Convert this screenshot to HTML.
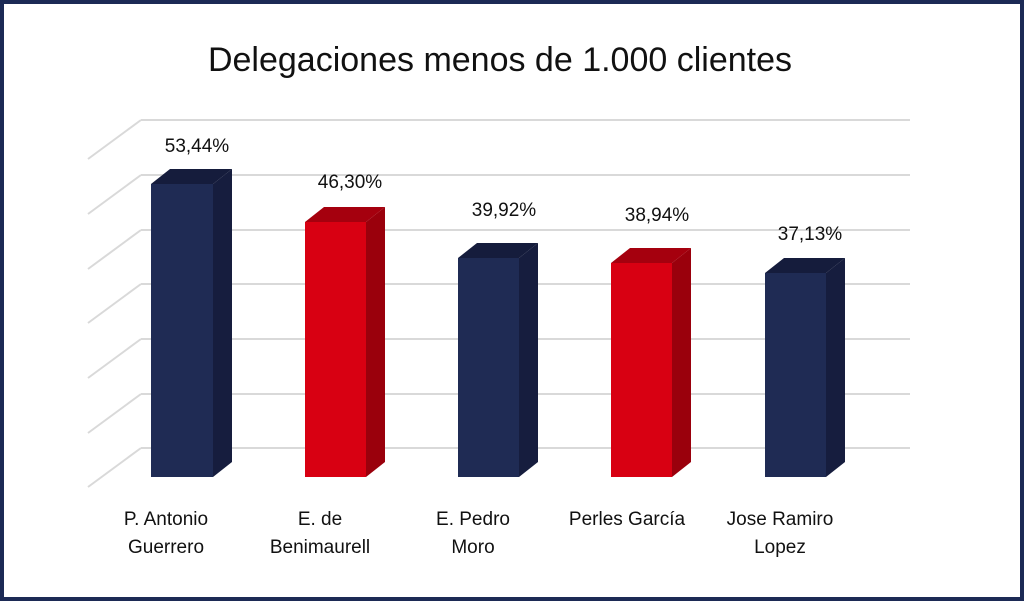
<!DOCTYPE html>
<html><head><meta charset="utf-8"><style>
body{margin:0;background:#fff}
svg{display:block}
text{font-family:"Liberation Sans",sans-serif;fill:#111}
</style></head><body>
<svg width="1024" height="601" viewBox="0 0 1024 601">
<rect x="2" y="2" width="1020" height="597" fill="#fff" stroke="#1c2a55" stroke-width="4"/>
<text x="500" y="71" font-size="34" text-anchor="middle">Delegaciones menos de 1.000 clientes</text>
<g stroke="#d9d9d9" stroke-width="2" fill="none">
<path d="M141 120H910M88 159L141 120"/>
<path d="M141 175H910M88 214L141 175"/>
<path d="M141 230H910M88 269L141 230"/>
<path d="M141 284H910M88 323L141 284"/>
<path d="M141 339H910M88 378L141 339"/>
<path d="M141 394H910M88 433L141 394"/>
<path d="M141 448H910M88 487L141 448"/>
</g>
<g id="bars">
<polygon points="213,184 232,169 232,462 213,477" fill="#161d3e"/>
<polygon points="151,184 170,169 232,169 213,184" fill="#151c3c"/>
<rect x="151" y="184" width="62" height="293" fill="#1f2b54"/>
<polygon points="366,222 385,207 385,462 366,477" fill="#9a000c"/>
<polygon points="305,222 324,207 385,207 366,222" fill="#a5000e"/>
<rect x="305" y="222" width="61" height="255" fill="#d80012"/>
<polygon points="519,258 538,243 538,462 519,477" fill="#161d3e"/>
<polygon points="458,258 477,243 538,243 519,258" fill="#151c3c"/>
<rect x="458" y="258" width="61" height="219" fill="#1f2b54"/>
<polygon points="672,263 691,248 691,462 672,477" fill="#9a000c"/>
<polygon points="611,263 630,248 691,248 672,263" fill="#a5000e"/>
<rect x="611" y="263" width="61" height="214" fill="#d80012"/>
<polygon points="826,273 845,258 845,462 826,477" fill="#161d3e"/>
<polygon points="765,273 784,258 845,258 826,273" fill="#151c3c"/>
<rect x="765" y="273" width="61" height="204" fill="#1f2b54"/>
</g>
<g font-size="19" text-anchor="middle">
<text x="197" y="152">53,44%</text>
<text x="350" y="188">46,30%</text>
<text x="504" y="216">39,92%</text>
<text x="657" y="221">38,94%</text>
<text x="810" y="240">37,13%</text>
<text x="166" y="525">P. Antonio</text><text x="166" y="553">Guerrero</text>
<text x="320" y="525">E. de</text><text x="320" y="553">Benimaurell</text>
<text x="473" y="525">E. Pedro</text><text x="473" y="553">Moro</text>
<text x="627" y="525">Perles García</text>
<text x="780" y="525">Jose Ramiro</text><text x="780" y="553">Lopez</text>
</g>
</svg>
</body></html>
